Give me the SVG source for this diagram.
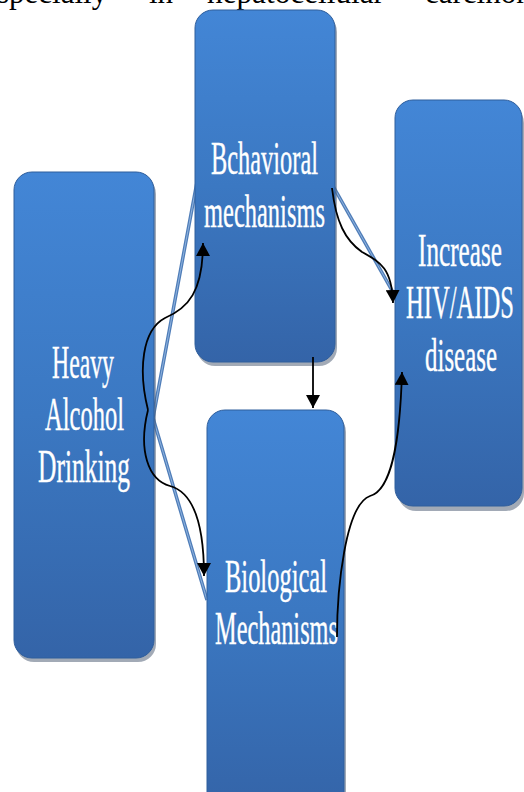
<svg xmlns="http://www.w3.org/2000/svg" width="524" height="792" viewBox="0 0 524 792">
<defs>
<linearGradient id="fill" x1="0" y1="0" x2="0" y2="1">
<stop offset="0" stop-color="#4386d6"/>
<stop offset="0.5" stop-color="#3b78c2"/>
<stop offset="1" stop-color="#3464a8"/>
</linearGradient>
<linearGradient id="edge" x1="0" y1="0" x2="0" y2="1">
<stop offset="0" stop-color="#a9d2fa" stop-opacity="0"/>
<stop offset="0.06" stop-color="#a9d2fa" stop-opacity="0.9"/>
<stop offset="0.94" stop-color="#8cbcec" stop-opacity="0.9"/>
<stop offset="1" stop-color="#8cbcec" stop-opacity="0"/>
</linearGradient>
<marker id="arr" viewBox="0 0 10 10" refX="10" refY="5" markerUnits="userSpaceOnUse" markerWidth="13" markerHeight="14" orient="auto" preserveAspectRatio="none">
<path d="M0,0 L10,5 L0,10 z" fill="#000"/>
</marker>
</defs>
<style>
.shadow{fill:#56657a;opacity:0.55}
.box{fill:url(#fill);stroke:#2f5e9c;stroke-width:1}
.hl{fill:none;stroke:url(#edge);stroke-width:2.5}
.lbl{font-family:"Liberation Serif","Times New Roman",serif;font-size:47px;fill:#fff;stroke:#fff;stroke-width:0.4;text-anchor:middle}
.top{font-family:"Liberation Serif","Times New Roman",serif;font-size:31px;fill:#000}
.blue{fill:none;stroke:#4f7db8;stroke-width:3.5}
.bluein{fill:none;stroke:#8fb3df;stroke-width:1}
.curve{fill:none;stroke:#000;stroke-width:1.8}
</style>

<g id="header-text">
<text class="top" x="-3" y="3">specially</text>
<text class="top" x="149" y="3">in</text>
<text class="top" x="207" y="3" textLength="177" lengthAdjust="spacingAndGlyphs">hepatocellular</text>
<text class="top" x="425" y="3">carcinoma</text>
</g>

<g id="connectors-under">
<path class="blue" d="M197,182 L153,418 L207,600"/>
<path class="bluein" d="M197,182 L153,418 L207,600"/>
<path class="blue" d="M333,186 L394,294"/>
<path class="bluein" d="M333,186 L394,294"/>
</g>

<g id="node-heavy">
<rect class="shadow" x="16" y="176" width="140" height="486" rx="18"/>
<rect class="box" x="14" y="172" width="140" height="486" rx="18"/>
<line class="hl" x1="19" y1="190" x2="19" y2="640"/>
<line class="hl" x1="149" y1="190" x2="149" y2="640"/>
<text class="lbl" x="83" y="378" textLength="62" lengthAdjust="spacingAndGlyphs">Heavy</text>
<text class="lbl" x="84.5" y="430" textLength="79" lengthAdjust="spacingAndGlyphs">Alcohol</text>
<text class="lbl" x="84" y="482" textLength="92" lengthAdjust="spacingAndGlyphs">Drinking</text>
</g>

<g id="node-behavioral">
<rect class="shadow" x="197" y="14" width="140" height="352" rx="18"/>
<rect class="box" x="195" y="10" width="140" height="352" rx="18"/>
<line class="hl" x1="200" y1="28" x2="200" y2="344"/>
<line class="hl" x1="330" y1="28" x2="330" y2="344"/>
<text class="lbl" x="264.5" y="174" textLength="107" lengthAdjust="spacingAndGlyphs">Bchavioral</text>
<text class="lbl" x="264.5" y="227" textLength="121" lengthAdjust="spacingAndGlyphs">mechanisms</text>
</g>

<g id="node-biological">
<rect class="shadow" x="209" y="414" width="137" height="400" rx="18"/>
<rect class="box" x="207" y="410" width="137" height="400" rx="18"/>
<line class="hl" x1="212" y1="428" x2="212" y2="800"/>
<line class="hl" x1="339" y1="428" x2="339" y2="800"/>
<text class="lbl" x="276" y="592" textLength="102" lengthAdjust="spacingAndGlyphs">Biological</text>
<text class="lbl" x="276.5" y="644" textLength="123" lengthAdjust="spacingAndGlyphs">Mechanisms</text>
</g>

<g id="node-increase">
<rect class="shadow" x="398" y="105" width="126" height="406" rx="18"/>
<rect class="box" x="395" y="100" width="127" height="406" rx="18"/>
<line class="hl" x1="400" y1="118" x2="400" y2="488"/>
<line class="hl" x1="517" y1="118" x2="517" y2="488"/>
<text class="lbl" x="460" y="266" textLength="84" lengthAdjust="spacingAndGlyphs">Increase</text>
<text class="lbl" x="460" y="318" textLength="108" lengthAdjust="spacingAndGlyphs">HIV/AIDS</text>
<text class="lbl" x="461" y="371" textLength="72" lengthAdjust="spacingAndGlyphs">disease</text>
</g>

<g id="connectors">
<path class="curve" marker-end="url(#arr)" d="M148,410 C138,370 142,330 165,318 C188,308 203,292 203,243"/>
<path class="curve" marker-end="url(#arr)" d="M148,410 C138,450 148,480 170,486 C192,492 204,520 204,576"/>
<path class="curve" marker-end="url(#arr)" d="M332,188 C336,222 345,240 362,252 C380,262 392,268 393,303"/>
<path class="curve" marker-end="url(#arr)" d="M313,357 L313,408"/>
<path class="curve" marker-end="url(#arr)" d="M337,637 C337,590 345,505 370,496 C392,490 400,440 402,372"/>
</g>
</svg>
